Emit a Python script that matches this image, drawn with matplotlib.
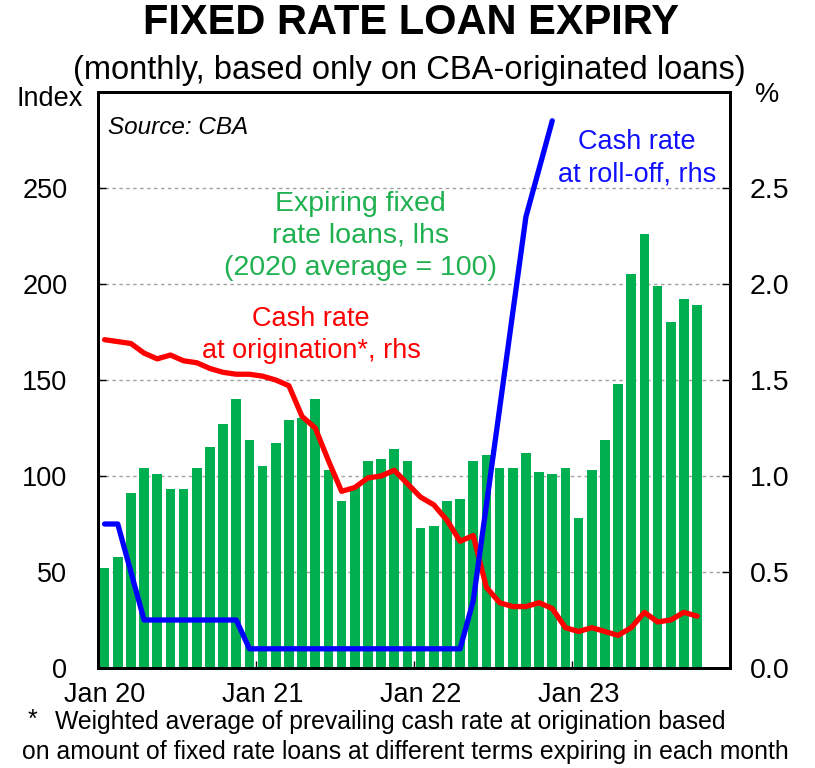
import matplotlib
matplotlib.use("Agg")
import matplotlib.pyplot as plt
import numpy as np
from matplotlib.ticker import FormatStrFormatter

plt.rcParams['font.family'] = ['Liberation Sans', 'DejaVu Sans']

# Expiring fixed rate loans, index (2020 average = 100), Jan 2020 - Oct 2023
expiring = [52, 58, 91, 104, 101, 93, 93, 104, 115, 127,
            140, 119, 105, 117, 129, 130, 140, 103, 87, 95,
            108, 109, 114, 108, 73, 74, 87, 88, 108, 111,
            104, 104, 112, 102, 101, 104, 78, 103, 119, 148,
            205, 226, 199, 180, 192, 189]

# Cash rate at origination, % (rhs)
cash_origination = [1.71, 1.70, 1.69, 1.64, 1.61, 1.63, 1.60, 1.59, 1.56, 1.54,
                    1.53, 1.53, 1.52, 1.50, 1.47, 1.31, 1.25, 1.08, 0.92, 0.94,
                    0.99, 1.00, 1.03, 0.96, 0.89, 0.85, 0.77, 0.66, 0.69, 0.42,
                    0.34, 0.32, 0.32, 0.34, 0.31, 0.21, 0.19, 0.21, 0.19, 0.17,
                    0.21, 0.29, 0.24, 0.25, 0.29, 0.27]

# Cash rate at roll-off, % (rhs), Jan 2020 - Nov 2022
cash_rolloff = [0.75, 0.75, 0.50, 0.25, 0.25, 0.25, 0.25, 0.25, 0.25, 0.25,
                0.25, 0.10, 0.10, 0.10, 0.10, 0.10, 0.10, 0.10, 0.10, 0.10,
                0.10, 0.10, 0.10, 0.10, 0.10, 0.10, 0.10, 0.10, 0.35, 0.85,
                1.35, 1.85, 2.35, 2.60, 2.85]

year_labels = ["Jan 20", "Jan 21", "Jan 22", "Jan 23"]
year_pos = [0, 12, 24, 36]
year_edges = [-0.5, 11.5, 23.5, 35.5]

W, H = 815, 768
fs = 19.5

def fx(px):
    return px / W

def fy(py):
    return 1 - py / H

fig = plt.figure(figsize=(W / 100, H / 100), dpi=100)
ax = fig.add_axes([fx(98), fy(668), fx(730) - fx(98), fy(92) - fy(668)])

months = np.arange(len(expiring))
ax.bar(months, expiring, width=0.74, color='#00b050', zorder=2)
ax.set_xlim(-0.38, 47.5)
ax.set_ylim(0, 300)
ax.set_yticks([0, 50, 100, 150, 200, 250])
ax.set_axisbelow(True)
ax.yaxis.grid(True, linestyle=(0, (2.5, 2.5)), color='#a0a0a0', linewidth=1.0)

ax.set_xticks(year_edges)
ax.set_xticklabels([])
ax.set_xticks(year_pos, minor=True)
ax.set_xticklabels(year_labels, minor=True)
ax.tick_params(axis='x', which='major', direction='in', length=5, width=1)
ax.tick_params(axis='x', which='minor', length=0, pad=10, labelsize=fs)
ax.tick_params(axis='y', direction='in', length=6, width=1, pad=22, labelsize=fs)

ax2 = ax.twinx()
ax2.plot(np.arange(len(cash_origination)), cash_origination, color='#ff0000', lw=3.8,
         solid_joinstyle='round', solid_capstyle='round')
ax2.plot(np.arange(len(cash_rolloff)), cash_rolloff, color='#0000ff', lw=3.8,
         solid_joinstyle='round', solid_capstyle='round')
ax2.set_ylim(0, 3)
ax2.set_yticks([0, 0.5, 1.0, 1.5, 2.0, 2.5])
ax2.yaxis.set_major_formatter(FormatStrFormatter('%.1f'))
ax2.tick_params(axis='y', direction='in', length=6, width=1, pad=14, labelsize=20.5)

for a in (ax, ax2):
    for s in a.spines.values():
        s.set_linewidth(2)
        s.set_color('black')

# titles and axis units
fig.text(fx(411), fy(23), "FIXED RATE LOAN EXPIRY", ha='center', va='center',
         fontsize=30, fontweight='bold')
fig.text(fx(409), fy(70), "(monthly, based only on CBA-originated loans)", ha='center',
         va='center', fontsize=23.5)
fig.text(fx(50), fy(99), "Index", ha='center', va='center', fontsize=fs)
fig.text(fx(767), fy(95), "%", ha='center', va='center', fontsize=fs)

# labels inside the chart
fig.text(fx(108), fy(127), "Source: CBA", ha='left', va='center', fontsize=17.5,
         style='italic')
fig.text(fx(360), fy(236), "Expiring fixed\nrate loans, lhs\n(2020 average = 100)",
         ha='center', va='center', fontsize=20.5, color='#1fb050', linespacing=1.28)
fig.text(fx(311), fy(335), "Cash rate\nat origination*, rhs", ha='center', va='center',
         fontsize=fs, color='#ff0000', linespacing=1.32)
fig.text(fx(637), fy(158), "Cash rate\nat roll-off, rhs", ha='center', va='center',
         fontsize=fs, color='#1010ff', linespacing=1.32)

# footnote
fig.text(fx(28), fy(720), "*", ha='left', va='center', fontsize=17.8)
fig.text(fx(55), fy(722), "Weighted average of prevailing cash rate at origination based",
         ha='left', va='center', fontsize=17.8)
fig.text(fx(22), fy(752),
         "on amount of fixed rate loans at different terms expiring in each month",
         ha='left', va='center', fontsize=17.8)

fig.savefig("out.png", dpi=100)
